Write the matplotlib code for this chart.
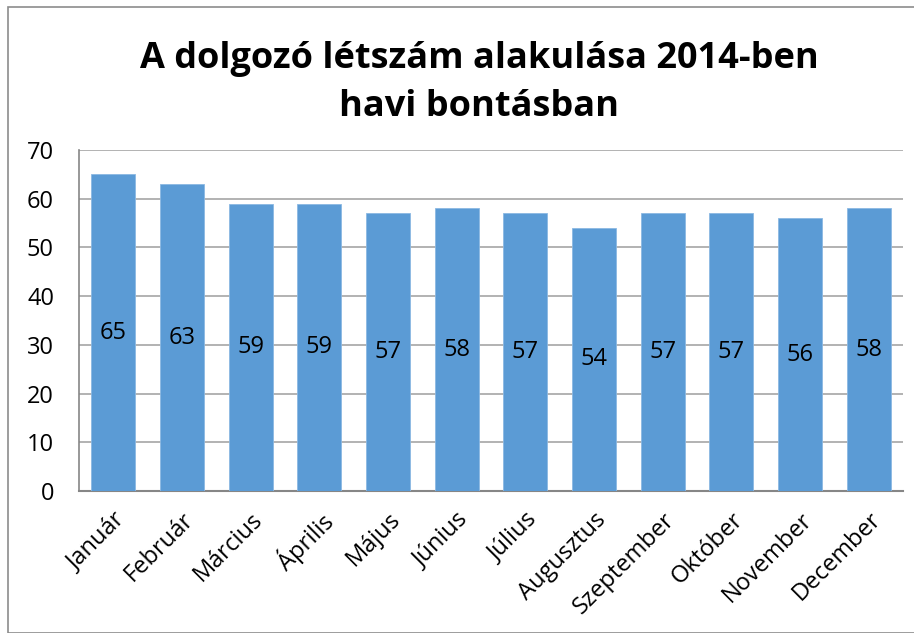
import numpy as np
import matplotlib.pyplot as plt
from matplotlib.patches import Rectangle

# data
months = ['Január', 'Február', 'Március', 'Április', 'Május', 'Június',
          'Július', 'Augusztus', 'Szeptember', 'Október', 'November', 'December']
headcount = [65, 63, 59, 59, 57, 58, 57, 54, 57, 57, 56, 58]
yticks = [0, 10, 20, 30, 40, 50, 60, 70]

plt.rcParams['font.family'] = ['Open Sans', 'DejaVu Sans']

fig = plt.figure(figsize=(9.14, 6.33), dpi=100)
ax = fig.add_axes([79/914, 1-491/633, (903-79)/914, (491-150)/633])

x = np.arange(len(months))
bars = ax.bar(x, headcount, width=0.64, color='#5B9BD5', edgecolor='#8bb8e3', linewidth=0.6, zorder=3)

#value labels in the middle of the bars
for xi, v in zip(x, headcount):
    ax.text(xi, v/2, str(v), ha='center', va='center', fontsize=17, color='black', zorder=4)

ax.set_xlim(-0.5, len(months)-0.5)
ax.set_ylim(0, 70)
ax.set_yticks(yticks)
ax.set_yticklabels([str(t) for t in yticks], fontsize=17)
ax.set_xticks(x)
ax.set_xticklabels(months, rotation=45, ha='right', rotation_mode='anchor', fontsize=17)
ax.tick_params(axis='both', length=0)
ax.tick_params(axis='y', pad=18)
ax.tick_params(axis='x', pad=12)

ax.yaxis.grid(True, color='#a6a6a6', linewidth=1.2, zorder=0)
ax.set_axisbelow(True)
for s in ['top', 'right']:
    ax.spines[s].set_visible(False)
ax.spines['left'].set_color('#868686')
ax.spines['bottom'].set_color('#868686')
ax.spines['left'].set_linewidth(1.2)
ax.spines['bottom'].set_linewidth(1.5)

fig.text(479/914, 1-83/633, 'A dolgozó létszám alakulása 2014-ben\nhavi bontásban',
         ha='center', va='center', fontsize=26, fontweight='bold', linespacing=1.45)

#outer chart border
fig.patches.append(Rectangle((8/914, 0), 1, 1-7/633, transform=fig.transFigure,
                             fill=False, edgecolor='#8c8c8c', linewidth=1.2))

fig.savefig('out.png', dpi=100)
